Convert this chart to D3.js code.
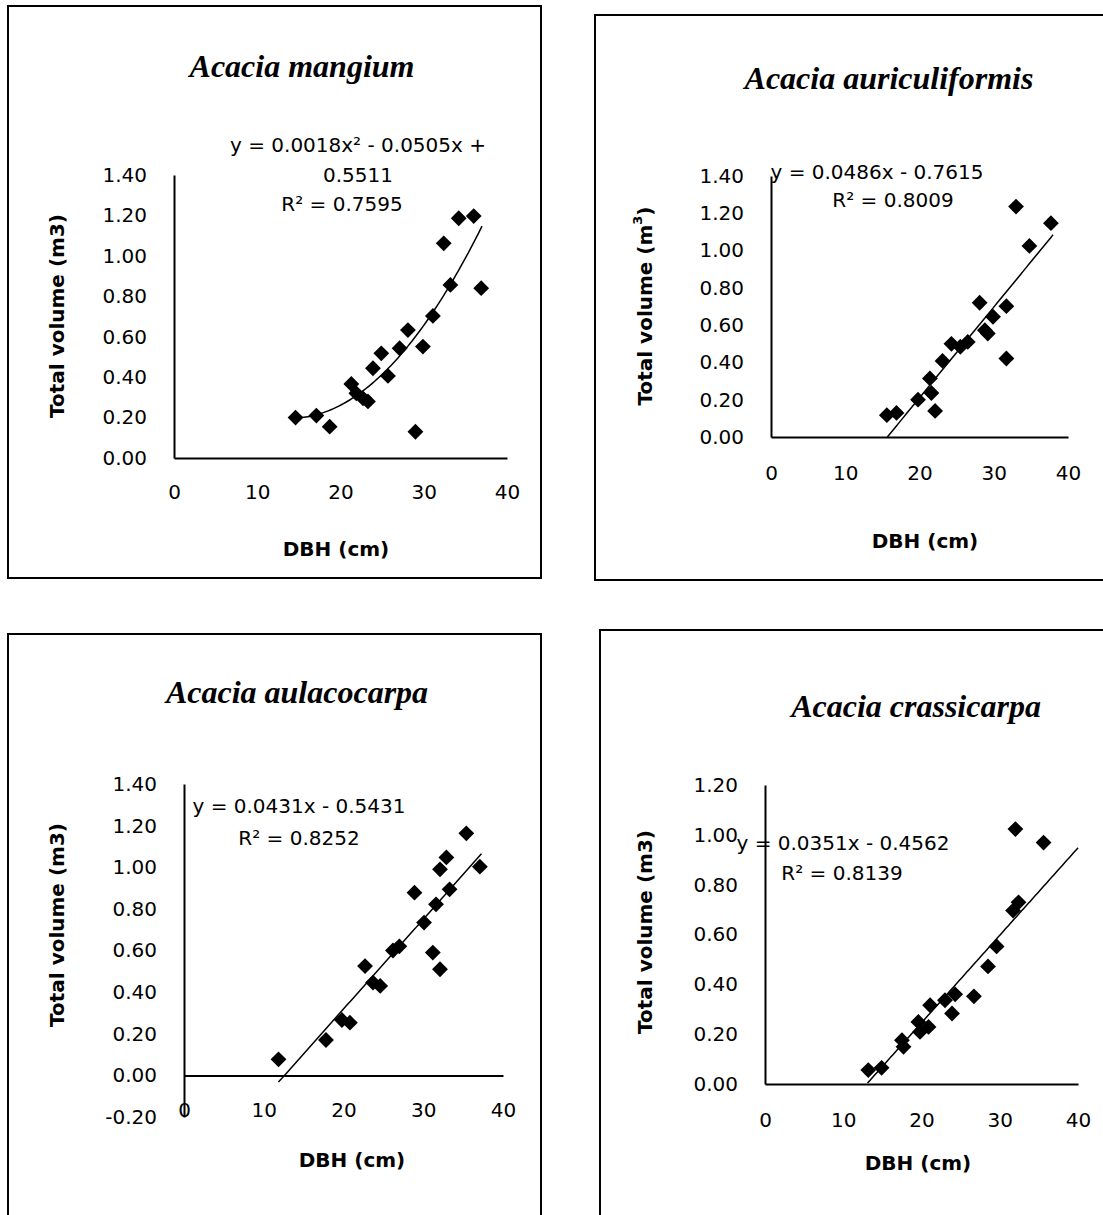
<!DOCTYPE html>
<html>
<head>
<meta charset="utf-8">
<script src="https://cdn.jsdelivr.net/npm/d3@7"></script>
<style>
  body { margin: 0; background: #fff; }
  svg { display: block; }
</style>
</head>
<body>
<div id="chart"></div>
<script>
const W = 1103;
const H = 1215;

// ---- data ----
const SPECIES = ['Acacia mangium', 'Acacia auriculiformis', 'Acacia aulacocarpa', 'Acacia crassicarpa'];

const mangiumDbh = [14.6, 17.1, 18.7, 21.3, 21.9, 22.7, 23.3, 23.9, 24.9, 25.7, 27.1, 28.1, 29.9, 29.0, 31.1, 33.2, 32.4, 34.2, 36.0, 36.9];
const mangiumVol = [0.20, 0.21, 0.155, 0.366, 0.32, 0.295, 0.28, 0.444, 0.518, 0.406, 0.543, 0.633, 0.551, 0.13, 0.703, 0.856, 1.062, 1.186, 1.197, 0.84];

const auriculiDbh = [15.6, 16.9, 19.8, 21.6, 21.4, 22.1, 23.1, 24.3, 25.5, 26.5, 28.1, 28.8, 29.2, 29.9, 31.7, 31.7, 33.0, 34.8, 37.7];
const auriculiVol = [0.117, 0.129, 0.20, 0.236, 0.314, 0.14, 0.408, 0.50, 0.484, 0.51, 0.72, 0.573, 0.555, 0.645, 0.702, 0.421, 1.236, 1.025, 1.147];

const aulacoDbh = [11.85, 17.8, 19.8, 20.8, 22.7, 23.7, 24.6, 26.2, 27.0, 28.9, 30.1, 31.6, 31.2, 32.1, 33.3, 32.1, 32.9, 35.4, 37.1];
const aulacoVol = [0.077, 0.17, 0.266, 0.253, 0.525, 0.446, 0.43, 0.60, 0.62, 0.878, 0.734, 0.822, 0.59, 0.51, 0.894, 0.99, 1.047, 1.163, 1.003];

const crassiDbh = [13.2, 14.9, 17.5, 17.7, 19.6, 19.8, 20.9, 21.1, 23.0, 24.3, 23.9, 26.7, 28.5, 29.6, 31.7, 32.4, 32.0, 35.6];
const crassiVol = [0.056, 0.065, 0.176, 0.149, 0.249, 0.209, 0.229, 0.316, 0.336, 0.36, 0.283, 0.352, 0.472, 0.552, 0.696, 0.729, 1.023, 0.969];

const DBH = [mangiumDbh, auriculiDbh, aulacoDbh, crassiDbh];
const VOL = [mangiumVol, auriculiVol, aulacoVol, crassiVol];

const xTicks = [0, 10, 20, 30, 40];
const yTicksStd = [0, 0.2, 0.4, 0.6, 0.8, 1.0, 1.2, 1.4];
const yTicksAulaco = [-0.2, 0, 0.2, 0.4, 0.6, 0.8, 1.0, 1.2, 1.4];
const yTicksCrassi = [0, 0.2, 0.4, 0.6, 0.8, 1.0, 1.2];
const Y_TICKS = [yTicksStd, yTicksStd, yTicksAulaco, yTicksCrassi];

// trend line coefficients [a, b, c] for y = a x^2 + b x + c, and drawn x range
const trendCoef = [[0.0018, -0.0505, 0.5511], [0, 0.0486, -0.7615], [0, 0.0431, -0.5431], [0, 0.0351, -0.4562]];
const trendRange = [[14.6, 37], [15.67, 38], [11.85, 37.3], [13.1, 40]];

const equations = [
  ['y = 0.0018x² - 0.0505x +', '0.5511', 'R² = 0.7595'],
  ['y = 0.0486x - 0.7615', 'R² = 0.8009'],
  ['y = 0.0431x - 0.5431', 'R² = 0.8252'],
  ['y = 0.0351x - 0.4562', 'R² = 0.8139']
];

// ---- layout (pixels) ----
const PANELS = [
  { box: [8, 6, 541, 578], left: 174, right: 507, top: 175, bottom: 458,
    title: [302, 66], ylab: [57, 316], xlab: [336, 549], labelGap: 35,
    eq: [[358, 145], [358, 175], [342, 204]], m3sup: false },
  { box: [595, 15, 1130, 580], left: 771, right: 1068, top: 176, bottom: 437,
    title: [889, 78], ylab: [645, 306], xlab: [925, 541], labelGap: 37,
    eq: [[877, 172], [893, 200]], m3sup: true },
  { box: [8, 634, 541, 1240], left: 184, right: 503, top: 784, bottom: 1117,
    title: [297, 692], ylab: [57, 925], xlab: [352, 1160], labelGap: 35,
    eq: [[299, 806], [299, 838]], m3sup: false },
  { box: [600, 630, 1130, 1240], left: 765, right: 1078, top: 785, bottom: 1084,
    title: [916, 706], ylab: [645, 932], xlab: [918, 1163], labelGap: 37,
    eq: [[843, 843], [842, 873]], m3sup: false }
];

const SANS = 'DejaVu Sans, sans-serif';

const svg = d3.select('#chart')
              .append('svg')
              .attr('width', W)
              .attr('height', H);

svg.append('rect').attr('width', W).attr('height', H).attr('fill', '#fff');

const diamond = d3.symbol().type(d3.symbolSquare).size(125);

PANELS.forEach((P, i) => {
  const ticks = Y_TICKS[i];
  const x = d3.scaleLinear()
              .domain([0, 40])
              .range([P.left, P.right]);
  const y = d3.scaleLinear()
              .domain([ticks[0], ticks[ticks.length - 1]])
              .range([P.bottom, P.top]);

  // frame
  const [bx0, by0, bx1, by1] = P.box;
  svg.append('rect')
       .attr('x', bx0).attr('y', by0)
       .attr('width', bx1 - bx0).attr('height', by1 - by0)
       .attr('fill', 'none')
       .attr('stroke', '#000')
       .attr('stroke-width', 2);

  // title
  svg.append('text')
       .attr('x', P.title[0]).attr('y', P.title[1])
       .attr('text-anchor', 'middle')
       .attr('dominant-baseline', 'central')
       .style('font-family', 'Liberation Serif, Times New Roman, serif')
       .style('font-weight', 'bold')
       .style('font-style', 'italic')
       .style('font-size', '32px')
       .text(SPECIES[i]);

  // x axis (crosses at y = 0)
  const gx = svg.append('g')
       .attr('transform', `translate(0,${y(0)})`)
       .call(d3.axisBottom(x).tickValues(xTicks).tickSize(0).tickPadding(P.labelGap - 8));
  gx.select('.domain').attr('stroke', '#000').attr('stroke-width', 2);
  gx.selectAll('text')
       .style('font-family', SANS).style('font-size', '20px').attr('fill', '#000');

  // y axis
  const gy = svg.append('g')
       .attr('transform', `translate(${P.left},0)`)
       .call(d3.axisLeft(y).tickValues(ticks).tickSize(0).tickPadding(27)
               .tickFormat(v => v.toFixed(2)));
  gy.select('.domain').attr('stroke', '#000').attr('stroke-width', 2);
  gy.selectAll('text')
       .style('font-family', SANS).style('font-size', '20px').attr('fill', '#000');

  // axis titles
  const yl = svg.append('text')
       .attr('transform', `translate(${P.ylab[0]},${P.ylab[1]}) rotate(-90)`)
       .attr('text-anchor', 'middle')
       .attr('dominant-baseline', 'central')
       .style('font-family', SANS)
       .style('font-weight', 'bold')
       .style('font-size', '20px');
  if (P.m3sup) {
    yl.append('tspan').text('Total volume (m');
    yl.append('tspan').attr('baseline-shift', 'super').style('font-size', '13px').text('3');
    yl.append('tspan').text(')');
  } else {
    yl.text('Total volume (m3)');
  }

  svg.append('text')
       .attr('x', P.xlab[0]).attr('y', P.xlab[1])
       .attr('text-anchor', 'middle')
       .attr('dominant-baseline', 'central')
       .style('font-family', SANS)
       .style('font-weight', 'bold')
       .style('font-size', '20px')
       .text('DBH (cm)');

  // trend line
  const [a, b, c] = trendCoef[i];
  const [t0, t1] = trendRange[i];
  const xs = d3.range(t0, t1, 0.25).concat([t1]);
  svg.append('path')
       .datum(xs)
       .attr('fill', 'none')
       .attr('stroke', '#000')
       .attr('stroke-width', 1.5)
       .attr('d', d3.line().x(d => x(d)).y(d => y(a * d * d + b * d + c)));

  // points
  const pts = d3.zip(DBH[i], VOL[i]);
  svg.append('g')
       .selectAll('path')
       .data(pts)
       .enter()
       .append('path')
       .attr('d', diamond)
       .attr('transform', d => `translate(${x(d[0])},${y(d[1])}) rotate(45)`)
       .attr('fill', '#000');

  // equation labels
  svg.append('g')
       .selectAll('text')
       .data(equations[i])
       .enter()
       .append('text')
       .attr('x', (d, k) => P.eq[k][0])
       .attr('y', (d, k) => P.eq[k][1])
       .attr('text-anchor', 'middle')
       .attr('dominant-baseline', 'central')
       .style('font-family', SANS)
       .style('font-size', '20px')
       .text(d => d);
});
</script>
</body>
</html>
